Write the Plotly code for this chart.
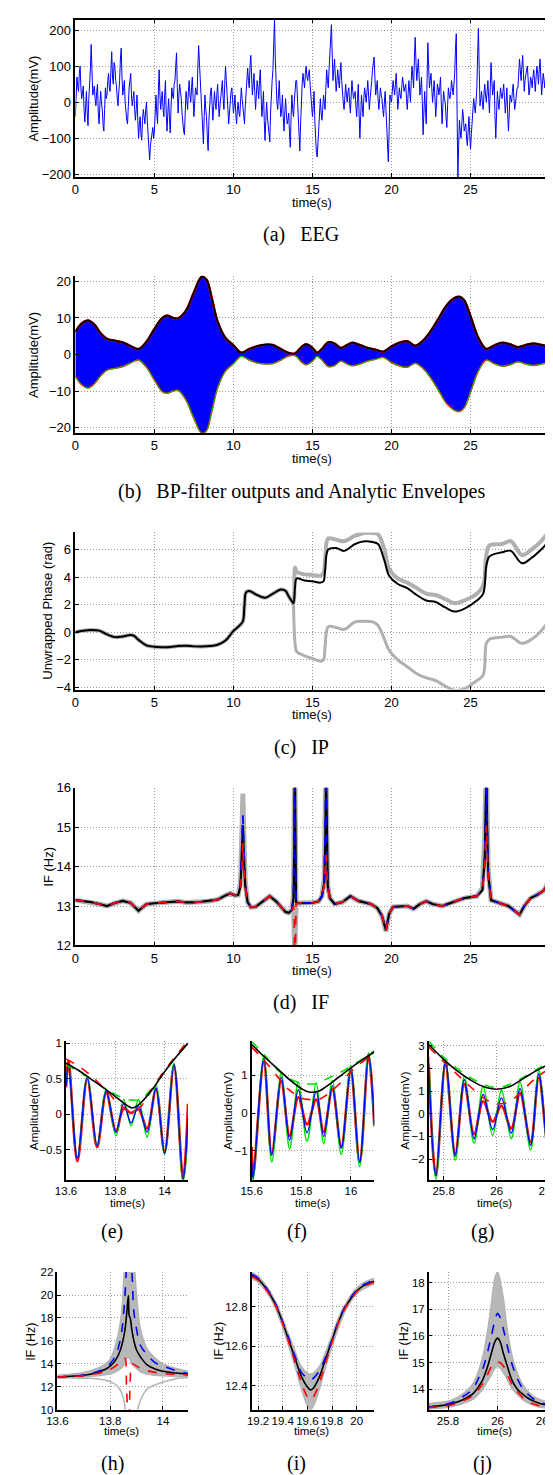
import plotly.graph_objects as go

W, H = 553, 1475

# ---------------- (a) EEG ----------------
eeg_dt = 0.1
eeg = [
 -40, 70, 30, 100, 10, 45, -55, 30, -65, 40,
 160, 20, 45, -10, 50, -60, 30, -20, -80, 40,
 20, 80, 30, 140, 50, 100, 45, -10, 60, 150,
 20, 60, -30, -60, 40, 80, -10, 30, -50, 20,
 -100, -40, -105, -20, -60, 0, -80, -160, -100, -70,
 -80, 20, -60, 90, -20, 30, -40, 60, -80, 10,
 -85, 40, 10, 60, 137, -30, 50, 10, -60, -90,
 30, -20, 60, 0, 70, -40, 40, 20, 157, 60,
 -30, -115, 20, -40, -134, 0, 40, -50, 30, -20,
 50, -40, 20, 60, -20, 100, 30, -60, 10, 40,
 -30, 20, -60, 0, -40, 40, -20, -60, 30, 95,
 40, 130, 20, 80, -20, 60, 10, 90, -40, 30,
 -106, 0, -60, -110, 30, 90, 229, 40, -20, 60,
 -40, 20, -80, 10, -60, -30, -125, 20, -40, 40,
 60, -50, -135, 20, 80, 40, 100, 60, 90, 20,
 -40, 30, -110, -152, -60, 10, -50, 20, -20, 90,
 40, 130, 215, 60, 120, 30, 90, 40, 110, 20,
 -20, 50, 0, 40, -30, 60, 10, 30, -40, 50,
 -100, 20, -40, 40, 0, 60, -20, 30, 90, 125,
 20, 60, -20, 40, 10, -40, 30, -60, -165, 20,
 0, 60, 20, 80, -20, 40, 10, 70, 30, 50,
 -20, 60, 0, 100, 40, 180, 60, 120, 20, 70,
 -90, 30, -60, 165, 40, 80, 0, 60, -40, 50,
 20, 70, -60, 30, 0, -70, 40, 10, 60, 20,
 80, 190, -210, -50, -100, -20, -80, -60, -120, -40,
 -130, -50, 10, -30, 40, 205, -10, 30, -20, 50,
 0, 60, -30, 110, 20, 60, -100, 30, -20, 40,
 10, 50, -30, 40, -80, 20, 0, 50, -20, 30,
 40, 120, 60, 130, 30, 80, 100, 20, 70, 40,
 90, 30, 100, 50, 120, 20, 80, 40, 110, 60,
 50]
# samples half-way between the ones above (t + 0.05 s)
eeg_mid = [
 20, 45, 80, 40, 25, -20, -10, -30, 10, 90,
 60, 30, 10, 30, -30, -10, 0, -60, -20, 10,
 60, 40, 90, 70, 110, 60, 10, 30, 120, 70,
 40, 0, -50, 0, 60, 20, 10, -20, -20, -50,
 -60, -90, -50, -40, -20, -50, -120, -120, -80, -100,
 -30, -30, 30, 20, 10, -20, 20, -30, -30, -40,
 -20, 20, 50, 100, 40, 20, 30, -30, -80, -20,
 10, 30, 20, 40, 10, 0, 30, 100, 110, 10,
 -80, -40, -20, -100, -50, 30, -10, -10, 0, 20,
 0, -10, 40, 10, 50, 60, -20, -20, 30, 0,
 -10, -30, -20, -30, 0, 10, -50, -10, 70, 60,
 100, 70, 50, 30, 20, 40, 60, 20, -10, -50,
 -50, -40, -90, -30, 60, 170, 120, 0, 20, 0,
 -20, -40, -30, -30, -50, -90, -40, -20, 0, 60,
 0, -100, -60, 50, 60, 80, 70, 80, 50, -20,
 -10, -50, -140, -100, -30, -30, -20, 0, 40, 60,
 90, 180, 130, 90, 70, 60, 60, 80, 60, 0,
 20, 20, 30, 0, 20, 30, 20, -10, 10, -30,
 -40, -10, 10, 20, 30, 20, 10, 60, 110, 70,
 40, 10, 10, 20, -20, 0, -20, -120, -80, 10,
 30, 40, 50, 30, 10, 20, 40, 50, 40, 10,
 20, 30, 60, 70, 120, 110, 90, 70, 40, 0,
 -30, -20, 60, 100, 60, 40, 30, 10, 0, 40,
 40, 0, -10, 10, -40, -10, 20, 30, 40, 50,
 150, -20, -120, -80, -60, -40, -70, -100, -80, -90,
 -90, -20, -10, 0, 130, 90, 10, 0, 20, 20,
 30, 10, 40, 60, 40, -40, -30, 0, 10, 20,
 30, 10, 0, -30, -30, 10, 30, 10, 0, 40,
 90, 90, 100, 80, 60, 90, 60, 40, 60, 70,
 60, 70, 80, 90, 70, 50, 60, 80, 90, 50]
t_eeg, v_eeg = [], []
for k, v in enumerate(eeg):
    t_eeg.append(round(k * eeg_dt, 3)); v_eeg.append(v)
    if k < len(eeg_mid):
        t_eeg.append(round(k * eeg_dt + eeg_dt / 2, 3)); v_eeg.append(eeg_mid[k])

# ---------------- (b) BP filter envelopes ----------------
t_env = [0, 0.4, 0.8, 1.2, 1.6, 2.0, 2.5, 3.0, 3.5, 4.0,
         4.5, 5.0, 5.5, 5.8, 6.2, 6.5, 7.0, 7.5, 8.0, 8.3,
         8.6, 9.0, 9.5, 10.0, 10.5, 11.0, 11.5, 12.0, 12.5, 13.0,
         13.5, 13.9, 14.3, 14.6, 15.0, 15.3, 15.6, 16.0, 16.4, 16.8,
         17.2, 17.5, 18.0, 18.5, 19.0, 19.5, 20.0, 20.5, 21.0, 21.5,
         22.0, 22.5, 23.0, 23.5, 24.0, 24.3, 24.6, 25.0, 25.5, 26.0,
         26.5, 27.0, 27.5, 28.0, 28.5, 29.0, 29.5, 29.95]
env_upper = [6.2, 8.5, 9.3, 8.2, 5.8, 4.3, 3.8, 3.3, 2.3, 1.5,
             3.5, 7.0, 10.0, 10.7, 10.0, 9.9, 12.0, 17.0, 21.3, 20.5,
             16.0, 9.0, 4.5, 2.5, 0.5, 1.5, 2.3, 2.7, 2.6, 1.5,
             0.4, 0.3, 2.0, 2.8, 1.8, 0.5, 1.5, 3.4, 3.0, 1.8,
             2.6, 3.2, 2.6, 1.8, 1.3, 0.8, 2.2, 3.2, 3.6, 2.4,
             3.8, 6.5, 10.0, 13.5, 15.5, 15.8, 14.8, 10.5, 4.5, 1.5,
             2.5, 3.2, 2.8, 2.0, 2.6, 3.0, 2.6, 2.2]
env_lower = [-6.0, -8.3, -9.2, -8.0, -5.8, -4.3, -3.8, -3.3, -2.3, -1.5,
             -3.5, -7.0, -10.2, -10.6, -10.0, -9.8, -12.5, -17.5, -21.6, -20.8,
             -16.2, -9.2, -4.5, -2.5, -0.5, -1.5, -2.3, -2.6, -2.5, -1.5,
             -0.4, -0.3, -2.0, -2.8, -1.8, -0.5, -1.5, -3.3, -3.0, -1.8,
             -2.6, -3.1, -2.6, -1.8, -1.3, -0.8, -2.2, -3.1, -3.5, -2.4,
             -3.8, -6.5, -10.0, -13.5, -15.3, -15.6, -14.6, -10.3, -4.5, -1.5,
             -2.5, -3.2, -2.8, -2.0, -2.6, -3.0, -2.6, -2.2]

# ---------------- (c) IP ----------------
t_ip = [0, 0.5, 1.0, 1.5, 2.0, 2.5, 3.0, 3.5, 3.7, 4.0,
        4.5, 5.0, 5.5, 6.0, 6.5, 7.0, 7.5, 8.0, 8.5, 9.0,
        9.5, 10.0, 10.4, 10.6, 10.7, 10.8, 11.0, 11.5, 12.0, 12.5,
        13.0, 13.3, 13.5, 13.7, 13.8, 13.9, 14.0, 14.5, 15.0, 15.5,
        15.7, 15.8, 16.0, 16.5, 17.0, 17.7, 18.3, 18.8, 19.15, 19.55,
        19.85, 20.4, 21.0, 21.6, 22.2, 22.8, 23.4, 24.0, 24.6, 25.4,
        25.8, 26.0, 26.2, 27.0, 27.55, 28.25, 28.87, 29.47, 29.95]
ip_black = [0.0, 0.12, 0.17, 0.12, -0.15, -0.35, -0.3, -0.2, -0.25, -0.55,
            -0.95, -1.05, -1.08, -1.07, -1.0, -0.98, -1.02, -1.03, -1.0, -0.9,
            -0.6, 0.1, 0.5, 0.8, 2.0, 2.9, 3.0, 2.7, 2.5, 2.8,
            3.1, 3.0, 2.6, 2.25, 2.1, 3.3, 3.9, 3.75, 3.7, 3.6,
            3.7, 4.5, 6.0, 6.1, 5.9, 6.4, 6.6, 6.55, 6.4, 5.2,
            4.1, 3.5, 3.2, 2.7, 2.3, 2.2, 1.8, 1.5, 1.7, 2.3,
            2.8, 4.8, 5.5, 5.8, 5.9, 5.0, 5.4, 6.0, 6.6]
ip_gray_hi_tail = [4.7, 4.4, 4.2, 4.15, 4.1,
                   4.3, 5.3, 6.8, 6.7, 6.6, 7.0, 7.2, 7.2, 7.1, 6.0,
                   4.6, 3.9, 3.6, 3.2, 2.8, 2.7, 2.4, 2.1, 2.3, 2.8,
                   3.4, 5.6, 6.3, 6.4, 6.6, 5.6, 6.0, 6.6, 7.3]
ip_gray_lo = [2.1, -0.8, -1.4, -1.7, -1.9, -2.1,
              -2.0, -1.0, 0.4, 0.35, 0.2, 0.75, 0.8, 0.75, 0.5, -0.5,
              -1.3, -2.0, -2.5, -3.0, -3.3, -3.5, -3.9, -4.2, -4.1, -3.5,
              -3.1, -0.8, -0.5, -0.35, -0.3, -0.8, -0.5, 0.1, 0.85]

# ---------------- (d) IF ----------------
t_if = [0, 0.5, 1, 1.5, 2, 2.5, 3, 3.5, 3.8, 4.0,
        4.2, 4.5, 5, 5.5, 6, 6.5, 7, 7.5, 8, 8.5,
        9, 9.5, 9.8, 10.1, 10.3, 10.45, 10.55, 10.6, 10.65, 10.75,
        10.9, 11.1, 11.4, 11.8, 12.3, 12.7, 13.0, 13.3, 13.5, 13.7,
        13.8, 13.85, 13.88, 13.91, 13.96, 14.1, 14.5, 15.0, 15.4, 15.6,
        15.75, 15.82, 15.86, 15.9, 15.97, 16.1, 16.4, 16.9, 17.4, 17.9,
        18.7, 19.1, 19.4, 19.65, 19.85, 20.1, 20.6, 21.0, 21.4, 21.8,
        22.2, 22.6, 23.2, 23.8, 24.6, 25.4, 25.75, 25.9, 25.97, 26.01,
        26.05, 26.12, 26.3, 26.6, 27.0, 27.4, 27.8, 28.1, 28.4, 28.8,
        29.2, 29.6, 29.8, 29.95]
if_black = [13.15, 13.12, 13.1, 13.05, 13.0, 13.08, 13.13, 13.08, 12.95, 12.88,
            12.95, 13.05, 13.07, 13.09, 13.1, 13.12, 13.09, 13.09, 13.11, 13.13,
            13.16, 13.27, 13.32, 13.27, 13.28, 13.5, 14.3, 15.05, 14.4, 13.5,
            13.1, 12.97, 12.98, 13.1, 13.25, 13.12, 12.98, 12.85, 12.83, 12.9,
            13.2, 14.5, 17.0, 14.2, 13.1, 13.07, 13.08, 13.08, 13.12, 13.25,
            13.6, 14.8, 16.5, 14.6, 13.5, 13.2, 13.05, 13.1, 13.25, 13.13,
            13.05, 12.95, 12.75, 12.38, 12.8, 12.98, 13.0, 13.0, 12.93, 13.05,
            13.12, 13.05, 13.0, 13.08, 13.2, 13.25, 13.4, 14.2, 16.5, 16.5,
            15.0, 13.8, 13.15, 13.1, 13.05, 13.0, 12.88, 12.78, 13.0, 13.2,
            13.28, 13.38, 13.5, 13.7]
if_blue = [13.15, 13.12, 13.1, 13.05, 13.0, 13.08, 13.13, 13.08, 12.95, 12.88,
           12.95, 13.05, 13.07, 13.09, 13.1, 13.12, 13.09, 13.09, 13.11, 13.13,
           13.16, 13.27, 13.32, 13.27, 13.28, 13.55, 14.5, 15.3, 14.6, 13.55,
           13.1, 12.97, 12.98, 13.1, 13.25, 13.12, 12.98, 12.85, 12.83, 12.9,
           13.25, 15.0, 17.0, 15.0, 13.15, 13.07, 13.08, 13.08, 13.12, 13.25,
           13.6, 14.9, 16.5, 14.7, 13.5, 13.2, 13.05, 13.1, 13.25, 13.13,
           13.05, 12.95, 12.75, 12.4, 12.8, 12.98, 13.0, 13.0, 12.93, 13.05,
           13.12, 13.05, 13.0, 13.08, 13.2, 13.25, 13.4, 14.3, 16.5, 16.5,
           15.2, 13.85, 13.15, 13.1, 13.05, 13.0, 12.88, 12.78, 13.0, 13.2,
           13.28, 13.38, 13.5, 13.7]
if_red = [13.15, 13.12, 13.1, 13.05, 13.0, 13.08, 13.13, 13.08, 12.95, 12.88,
          12.95, 13.05, 13.07, 13.09, 13.1, 13.12, 13.09, 13.09, 13.11, 13.13,
          13.16, 13.27, 13.32, 13.27, 13.28, 13.45, 14.0, 14.6, 14.0, 13.45,
          13.1, 12.97, 12.98, 13.1, 13.25, 13.12, 12.98, 12.85, 12.83, 12.9,
          13.0, 12.6, 11.0, 12.5, 13.05, 13.07, 13.08, 13.08, 13.12, 13.25,
          13.55, 14.0, 14.3, 13.9, 13.45, 13.2, 13.05, 13.1, 13.25, 13.13,
          13.05, 12.95, 12.75, 12.36, 12.8, 12.98, 13.0, 13.0, 12.93, 13.05,
          13.12, 13.05, 13.0, 13.08, 13.2, 13.25, 13.38, 14.0, 15.0, 15.05,
          14.5, 13.7, 13.15, 13.1, 13.05, 13.0, 12.88, 12.78, 13.0, 13.2,
          13.28, 13.38, 13.5, 13.7]
if_gray = [13.15, 13.12, 13.1, 13.05, 13.0, 13.08, 13.13, 13.08, 12.95, 12.88,
           12.95, 13.05, 13.07, 13.09, 13.1, 13.12, 13.09, 13.09, 13.11, 13.13,
           13.16, 13.27, 13.32, 13.27, 13.28, 13.6, 14.8, 15.85, 14.9, 13.6,
           13.1, 12.97, 12.98, 13.1, 13.25, 13.12, 12.98, 12.85, 12.83, 12.9,
           13.3, 15.5, 17.0, 15.5, 13.15, 13.07, 13.08, 13.08, 13.12, 13.25,
           13.7, 15.5, 17.0, 15.3, 13.5, 13.2, 13.05, 13.1, 13.25, 13.13,
           13.05, 12.95, 12.75, 12.36, 12.8, 12.98, 13.0, 13.0, 12.93, 13.05,
           13.12, 13.05, 13.0, 13.08, 13.2, 13.25, 13.45, 14.8, 17.0, 17.0,
           15.5, 13.9, 13.15, 13.1, 13.05, 13.0, 12.88, 12.78, 13.0, 13.2,
           13.28, 13.38, 13.5, 13.7]
t_if_dip = [13.7, 13.8, 13.85, 13.88, 13.91, 13.96, 14.1]
if_gray_dip = [12.9, 12.95, 12.3, 11.0, 12.2, 13.0, 13.07]

# ---------------- (e) (f) (g) zoomed oscillations ----------------
t_e = [13.6, 13.61, 13.646, 13.686, 13.726, 13.763, 13.803, 13.834,
       13.864, 13.894, 13.929, 13.965, 14.0, 14.038, 14.075, 14.095]
e_blue = [0.4, 0.7, -0.62, 0.52, -0.44, 0.33, -0.25, 0.15,
          -0.12, 0.12, -0.25, 0.37, -0.55, 0.7, -0.92, -0.05]
e_green = [0.42, 0.68, -0.6, 0.52, -0.43, 0.35, -0.3, 0.21,
           -0.16, 0.21, -0.32, 0.42, -0.56, 0.72, -0.95, -0.25]
e_red = [0.38, 0.75, -0.66, 0.5, -0.46, 0.3, -0.24, 0.08,
         0.02, 0.07, -0.2, 0.35, -0.53, 0.68, -0.9, 0.15]
t_e_env = [13.6, 13.65, 13.7, 13.75, 13.8, 13.85, 13.87, 13.9, 13.95, 14.0, 14.05, 14.095]
e_env_black = [0.72, 0.62, 0.5, 0.38, 0.25, 0.12, 0.09, 0.15, 0.35, 0.6, 0.82, 1.0]
e_env_green = [0.7, 0.6, 0.5, 0.38, 0.28, 0.21, 0.2, 0.21, 0.37, 0.6, 0.82, 1.0]
e_env_red = [0.78, 0.68, 0.55, 0.38, 0.2, 0.06, 0.05, 0.1, 0.36, 0.62, 0.84, 1.04]

t_f = [15.6, 15.606, 15.649, 15.681, 15.719, 15.753, 15.788, 15.823,
       15.86, 15.89, 15.925, 15.961, 15.999, 16.035, 16.071, 16.094]
f_blue = [-1.3, -1.72, 1.45, -1.12, 0.95, -0.72, 0.62, -0.52,
          0.58, -0.62, 0.72, -0.93, 1.18, -1.31, 1.55, -0.3]
f_green = [-1.5, -1.8, 1.52, -1.3, 1.05, -0.95, 0.82, -0.75,
           0.8, -0.82, 0.86, -1.1, 1.27, -1.42, 1.6, -0.35]
f_red = [-0.9, -1.68, 1.35, -1.08, 0.85, -0.6, 0.42, -0.3,
         0.36, -0.5, 0.63, -0.9, 1.1, -1.3, 1.5, -0.35]
t_f_env = [15.6, 15.65, 15.7, 15.75, 15.8, 15.83, 15.87, 15.9, 15.95, 16.0, 16.05, 16.094]
f_env_black = [1.82, 1.5, 1.2, 0.9, 0.65, 0.56, 0.58, 0.7, 0.95, 1.2, 1.43, 1.62]
f_env_green = [1.9, 1.55, 1.17, 0.92, 0.79, 0.77, 0.8, 0.9, 1.05, 1.25, 1.45, 1.65]
f_env_red = [1.75, 1.4, 1.0, 0.62, 0.4, 0.36, 0.36, 0.47, 0.75, 1.1, 1.38, 1.58]

t_g = [25.744, 25.771, 25.807, 25.844, 25.878, 25.915, 25.949, 25.985,
       26.018, 26.055, 26.088, 26.128, 26.159, 26.201, 26.215]
g_blue = [2.1, -2.75, 2.3, -1.87, 1.5, -1.1, 0.85, -0.7,
          0.7, -0.85, 1.1, -1.4, 1.75, -2.05, -1.8]
g_green = [2.5, -2.9, 2.35, -2.05, 1.65, -1.3, 1.2, -0.95,
           1.05, -1.1, 1.4, -1.6, 1.9, -2.2, -1.95]
g_red = [2.2, -2.7, 2.15, -1.75, 1.3, -0.9, 0.55, -0.35,
         0.35, -0.65, 0.9, -1.25, 1.6, -1.95, -1.7]
t_g_env = [25.744, 25.8, 25.85, 25.9, 25.95, 26.0, 26.05, 26.1, 26.15, 26.215]
g_env_black = [3.05, 2.4, 1.9, 1.5, 1.2, 1.08, 1.2, 1.55, 1.9, 2.3]
g_env_green = [3.2, 2.5, 2.0, 1.6, 1.3, 1.15, 1.3, 1.6, 1.95, 2.35]
g_env_red = [2.95, 2.3, 1.75, 1.2, 0.7, 0.45, 0.55, 1.05, 1.6, 2.1]

# ---------------- (h) (i) (j) zoomed IF ----------------
t_h = [13.6, 13.65, 13.7, 13.75, 13.78, 13.8, 13.82, 13.84, 13.855, 13.862, 13.869,
       13.872, 13.876, 13.882, 13.89, 13.9, 13.915, 13.94, 13.97, 14.0, 14.05, 14.095]
h_black = [12.85, 12.92, 13.0, 13.25, 13.5, 13.8, 14.3, 15.3, 16.8, 18.2, 19.95,
           18.2, 18.0, 17.0, 16.0, 15.2, 14.6, 13.9, 13.55, 13.35, 13.2, 13.1]
h_blue = [12.85, 12.92, 13.02, 13.3, 13.6, 14.0, 14.7, 16.3, 19.5, 22.5, 24.0,
          24.0, 23.0, 22.0, 18.5, 17.0, 15.6, 14.8, 14.1, 13.8, 13.4, 13.15]
h_red = [12.85, 12.9, 12.95, 13.15, 13.3, 13.5, 13.8, 14.2, 14.5, 12.0, 8.0,
         9.0, 12.5, 14.0, 13.95, 13.8, 13.6, 13.4, 13.25, 13.15, 13.08, 13.02]
h_gray_hi = [13.0, 13.1, 13.25, 13.6, 13.95, 14.4, 15.6, 17.8, 22.5, 24.0, 24.0,
             24.0, 24.0, 24.0, 23.0, 20.0, 17.0, 15.3, 14.5, 14.0, 13.6, 13.35]
h_gray_lo = [12.75, 12.8, 12.85, 12.95, 13.05, 13.1, 13.3, 13.6, 14.0, 14.5, 14.5,
             14.5, 14.3, 14.0, 13.8, 13.6, 13.3, 13.1, 13.0, 12.95, 12.9, 12.9]
t_h_out1 = [13.6, 13.7, 13.75, 13.8, 13.83, 13.85, 13.862]
h_out1 = [12.8, 12.75, 12.7, 12.45, 12.0, 11.0, 9.0]
t_h_out2 = [13.895, 13.91, 13.94, 14.0, 14.05, 14.095]
h_out2 = [9.0, 10.5, 11.8, 12.4, 12.7, 12.8]

t_i = [19.148, 19.2, 19.25, 19.3, 19.35, 19.4, 19.45, 19.5, 19.55, 19.6, 19.625,
       19.65, 19.7, 19.75, 19.8, 19.85, 19.9, 19.95, 20.0, 20.05, 20.1, 20.143]
i_black = [12.96, 12.94, 12.905, 12.86, 12.8, 12.72, 12.63, 12.54, 12.45, 12.395, 12.38,
           12.39, 12.45, 12.54, 12.63, 12.72, 12.79, 12.84, 12.88, 12.905, 12.92, 12.93]
i_blue = [12.965, 12.945, 12.91, 12.865, 12.805, 12.725, 12.64, 12.55, 12.47, 12.44, 12.43,
          12.44, 12.48, 12.55, 12.635, 12.725, 12.795, 12.845, 12.885, 12.91, 12.925, 12.935]
i_red = [12.955, 12.935, 12.9, 12.855, 12.795, 12.715, 12.62, 12.52, 12.42, 12.345, 12.33,
         12.345, 12.42, 12.52, 12.62, 12.715, 12.785, 12.835, 12.875, 12.9, 12.915, 12.925]
i_gray_hi = [12.975, 12.955, 12.92, 12.875, 12.815, 12.74, 12.655, 12.575, 12.5, 12.465, 12.46,
             12.465, 12.5, 12.575, 12.655, 12.74, 12.805, 12.855, 12.895, 12.92, 12.935, 12.945]
i_gray_lo = [12.945, 12.925, 12.89, 12.845, 12.78, 12.695, 12.6, 12.5, 12.39, 12.3, 12.28,
             12.3, 12.39, 12.5, 12.6, 12.69, 12.77, 12.825, 12.865, 12.89, 12.905, 12.915]

t_j = [25.72, 25.76, 25.8, 25.84, 25.87, 25.9, 25.92, 25.94, 25.96, 25.975, 25.99,
       26.0, 26.01, 26.025, 26.04, 26.06, 26.08, 26.1, 26.13, 26.16, 26.19, 26.215]
j_black = [13.33, 13.37, 13.42, 13.53, 13.65, 13.82, 14.05, 14.35, 14.85, 15.35, 15.8,
           15.92, 15.8, 15.3, 14.85, 14.3, 14.0, 13.82, 13.62, 13.5, 13.42, 13.38]
j_blue = [13.33, 13.38, 13.45, 13.6, 13.78, 14.0, 14.35, 14.75, 15.4, 16.0, 16.6,
          16.85, 16.7, 16.2, 15.6, 14.9, 14.4, 14.05, 13.75, 13.55, 13.45, 13.4]
j_red = [13.3, 13.34, 13.38, 13.48, 13.6, 13.75, 13.95, 14.2, 14.55, 14.85, 15.0,
         15.0, 15.0, 14.85, 14.55, 14.15, 13.9, 13.7, 13.5, 13.4, 13.35, 13.32]
j_gray_hi = [13.45, 13.5, 13.55, 13.7, 13.9, 14.2, 14.6, 15.2, 16.2, 17.2, 18.2,
             18.4, 18.1, 17.3, 16.2, 15.2, 14.6, 14.2, 13.85, 13.65, 13.55, 13.5]
j_gray_lo = [13.25, 13.28, 13.32, 13.4, 13.5, 13.62, 13.78, 14.0, 14.3, 14.55, 14.8,
             14.85, 14.8, 14.6, 14.35, 14.0, 13.8, 13.62, 13.45, 13.35, 13.3, 13.28]

# ---------------- layout geometry (pixels) ----------------
BOX = {
    1: (58.7, 551.7, 4.7, 163.7),
    2: (58.7, 551.7, 263.3, 422.3),
    3: (58.7, 551.7, 522.7, 681.5),
    4: (58.7, 551.7, 780.7, 940.0),
    5: (49.0, 176.0, 1036.7, 1176.7),
    6: (242.3, 370.0, 1037.0, 1176.7),
    7: (426.7, 553.0, 1036.7, 1176.7),
    8: (40.0, 176.0, 1270.0, 1409.0),
    9: (242.3, 370.0, 1270.0, 1409.0),
    10: (426.7, 553.0, 1270.0, 1409.0),
}
XR = {1: [0, 29.95], 2: [0, 29.95], 3: [0, 29.95], 4: [0, 29.95],
      5: [13.6, 14.095], 6: [15.6, 16.094], 7: [25.744, 26.201],
      8: [13.6, 14.095], 9: [19.148, 20.143], 10: [25.722, 26.212]}
YR = {1: [-207.4, 229], 2: [-21.5, 21.6], 3: [-4.15, 7.24], 4: [12, 16],
      5: [-0.92, 1.03], 6: [-1.77, 1.9], 7: [-2.91, 3.2],
      8: [10, 22], 9: [12.28, 12.976], 10: [13.23, 18.4]}
XT = {1: (0, 5), 2: (0, 5), 3: (0, 5), 4: (0, 5), 5: (13.6, 0.2), 6: (15.6, 0.2),
      7: (25.8, 0.2), 8: (13.6, 0.2), 9: (19.2, 0.2), 10: (25.8, 0.2)}
YT = {1: (-200, 100), 2: (-20, 10), 3: (-4, 2), 4: (12, 1), 5: (-0.5, 0.5), 6: (-1, 1),
      7: (-2, 1), 8: (10, 2), 9: (12.4, 0.2), 10: (14, 1)}

SANS = "Liberation Sans, Arial, Helvetica, sans-serif"
SERIF = "Liberation Serif, Times New Roman, serif"
GRID = "#9a9a9a"

fig = go.Figure()


def ax(i):
    return ("x" if i == 1 else f"x{i}"), ("y" if i == 1 else f"y{i}")


def line(i, x, y, color, width, dash="solid", shape="spline", **kw):
    xa, ya = ax(i)
    fig.add_trace(go.Scatter(x=x, y=y, mode="lines", xaxis=xa, yaxis=ya,
                             line=dict(color=color, width=width, dash=dash, shape=shape),
                             hoverinfo="skip", showlegend=False, **kw))


# (a)
line(1, t_eeg, v_eeg, "blue", 1.0, shape="linear")
# (b)
line(2, t_env, env_lower, "red", 1.5)
line(2, t_env, env_upper, "blue", 0.5, fill="tonexty", fillcolor="blue")
line(2, t_env, env_lower, "#00cc00", 1.0)
line(2, t_env, env_upper, "red", 2.5)
line(2, t_env, env_upper, "black", 2.0)
# (c)
line(3, t_ip, ip_black[:35] + ip_gray_hi_tail, "#b0b0b0", 4.0)
line(3, t_ip[34:], ip_gray_lo, "#b0b0b0", 3.0)
line(3, t_ip, ip_black, "black", 2.0)
# (d)
line(4, t_if, if_gray, "#b3b3b3", 5.0, shape="linear")
line(4, t_if_dip, if_gray_dip, "#b3b3b3", 5.0, shape="linear")
line(4, t_if, if_black, "black", 2.2, shape="linear")
line(4, t_if, if_blue, "blue", 1.8, dash="dash", shape="linear")
line(4, t_if, if_red, "red", 1.8, dash="dash", shape="linear")
# (e)(f)(g)
for i, (t, b, g, r, te, eb, eg, er) in {
    5: (t_e, e_blue, e_green, e_red, t_e_env, e_env_black, e_env_green, e_env_red),
    6: (t_f, f_blue, f_green, f_red, t_f_env, f_env_black, f_env_green, f_env_red),
    7: (t_g, g_blue, g_green, g_red, t_g_env, g_env_black, g_env_green, g_env_red),
}.items():
    line(i, t, r, "red", 2.6)
    line(i, t, g, "#00e000", 1.6)
    line(i, t, b, "blue", 1.4)
    line(i, te, eg, "#00e000", 1.6, dash="dash")
    line(i, te, er, "red", 1.6, dash="dash")
    line(i, te, eb, "black", 1.6)
# (h)(i)(j)
for i, (t, lo, hi, bk, bl, rd) in {
    8: (t_h, h_gray_lo, h_gray_hi, h_black, h_blue, h_red),
    9: (t_i, i_gray_lo, i_gray_hi, i_black, i_blue, i_red),
    10: (t_j, j_gray_lo, j_gray_hi, j_black, j_blue, j_red),
}.items():
    line(i, t, lo, "#b3b3b3", 1.5)
    line(i, t, hi, "#b3b3b3", 1.5, fill="tonexty", fillcolor="#b8b8b8")
    if i == 8:
        line(8, t_h_out1, h_out1, "#b3b3b3", 1.5)
        line(8, t_h_out2, h_out2, "#b3b3b3", 1.5)
    line(i, t, bk, "black", 1.6)
    line(i, t, bl, "blue", 1.6, dash="dash")
    line(i, t, rd, "red", 1.6, dash="dash")

layout = dict(width=W, height=H, margin=dict(l=0, r=0, t=0, b=0),
              paper_bgcolor="white", plot_bgcolor="white", showlegend=False)
for i, (l, r, t, b) in BOX.items():
    small = i >= 5
    fs = 11.5 if small else 13
    common = dict(showline=True, linecolor="black", linewidth=1.5,
                  ticks="inside", ticklen=4, tickwidth=1, tickcolor="black",
                  showgrid=True, gridcolor=GRID, griddash="1px,2px", gridwidth=1,
                  zeroline=False, tickfont=dict(family=SANS, size=fs, color="black"),
                  tickangle=0,
                  mirror=("ticks" if i == 1 else False), fixedrange=True)
    xa, ya = ax(i)
    xkey = "xaxis" if i == 1 else f"xaxis{i}"
    ykey = "yaxis" if i == 1 else f"yaxis{i}"
    layout[xkey] = dict(common, domain=[l / W, r / W], range=XR[i], anchor=ya,
                        tick0=XT[i][0], dtick=XT[i][1],
                        ticklabeloverflow="allow")
    layout[ykey] = dict(common, domain=[1 - b / H, 1 - t / H], range=YR[i], anchor=xa,
                        tick0=YT[i][0], dtick=YT[i][1])

ann = []


def text(x, y, s, size, family=SANS, angle=0):
    ann.append(dict(x=x / W, y=1 - y / H, xref="paper", yref="paper", text=s,
                    showarrow=False, xanchor="center", yanchor="middle",
                    textangle=angle, font=dict(family=family, size=size, color="black")))


NB = "\u00a0"
# y titles
text(15, 84, "Amplitude(mV)", 13, angle=-90)
text(15, 343, "Amplitude(mV)", 13, angle=-90)
text(30, 602, "Unwrapped Phase (rad)", 13, angle=-90)
text(30.7, 860, "IF (Hz)", 13, angle=-90)
text(15, 1107, "Amplitude(mV)", 11.8, angle=-90)
text(217.7, 1107, "Amplitude(mV)", 11.8, angle=-90)
text(401.7, 1107, "Amplitude(mV)", 11.8, angle=-90)
text(13, 1340, "IF (Hz)", 12.5, angle=-90)
text(209, 1340, "IF (Hz)", 12.5, angle=-90)
text(401.7, 1340, "IF (Hz)", 12.5, angle=-90)
# x titles
for yy in (189, 448, 707, 965):
    text(305, yy, "time(s)", 13)
for xx in (112.5, 306, 495):
    text(xx, 1200, "time(s)", 11.5)
for xx in (107, 305, 495):
    text(xx, 1431, "time(s)", 11.5)
# captions
caps = [(294, 222, "(a)" + NB * 3 + "EEG"),
        (294, 481, "(b)" + NB * 3 + "BP-filter outputs and Analytic Envelopes"),
        (294, 740, "(c)" + NB * 3 + "IP"),
        (294, 998, "(d)" + NB * 3 + "IF"),
        (97, 1229, "(e)"), (290, 1229, "(f)"), (483, 1229, "(g)"),
        (97, 1463, "(h)"), (289, 1463, "(i)"), (483, 1463, "(j)")]
for x, y, s in caps:
    text(x, y, s, 20, family=SERIF)
layout["annotations"] = ann

fig.update_layout(**layout)
fig.write_html("out.html")
